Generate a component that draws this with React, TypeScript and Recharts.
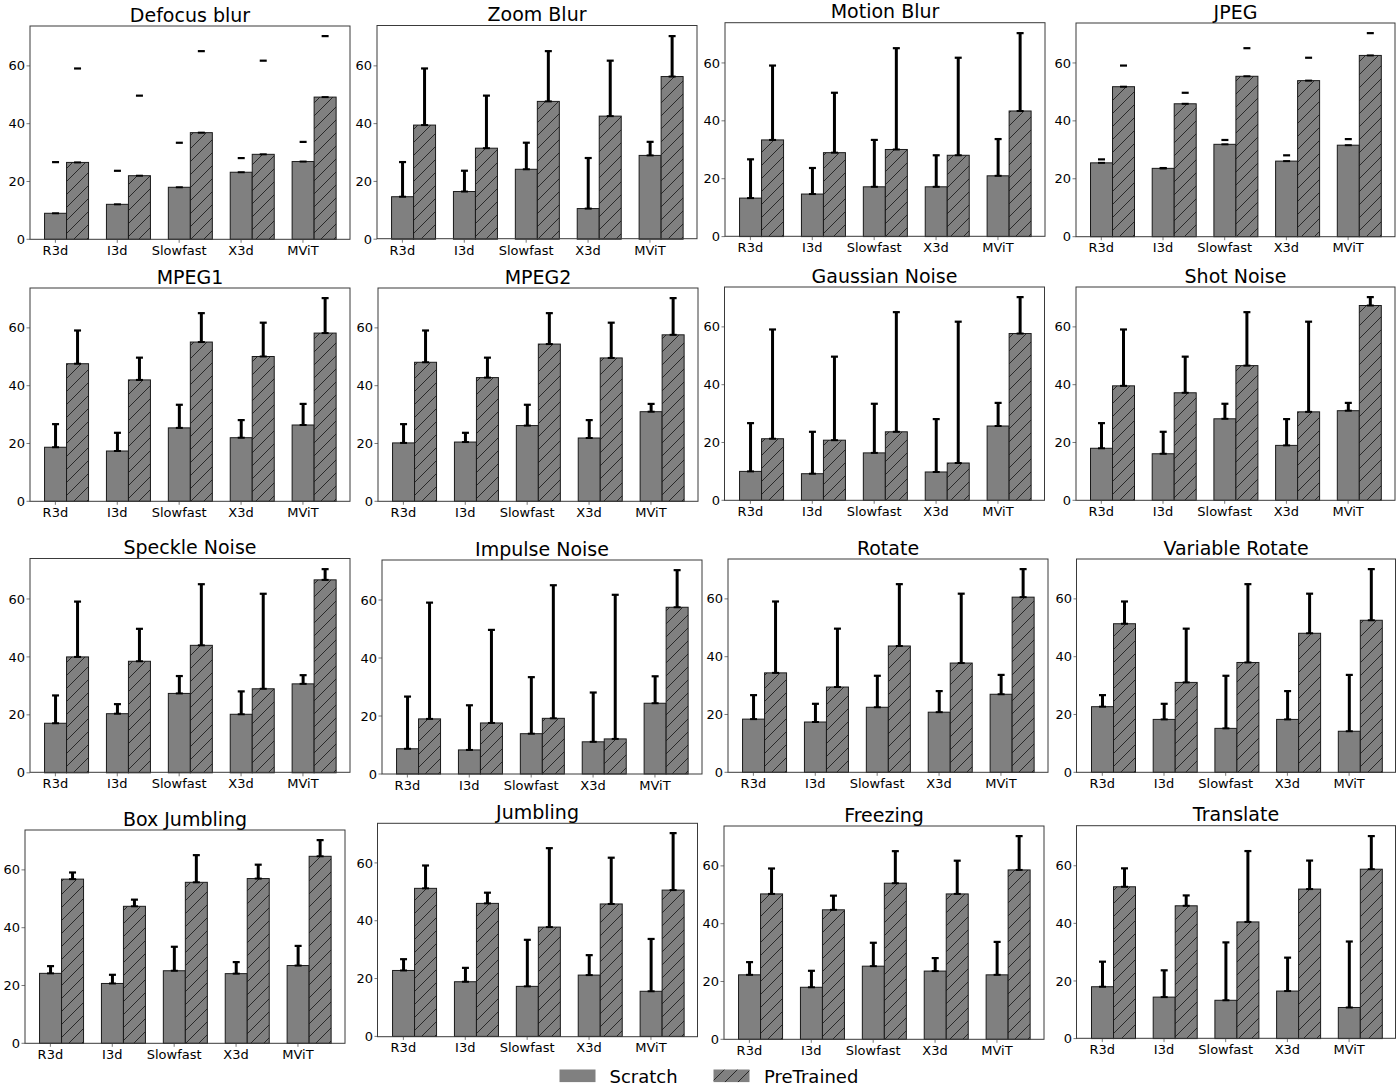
import React from 'react';
import { BarChart, Bar, XAxis, YAxis } from 'recharts';

// models on the x axis
const models = ['R3d', 'I3d', 'Slowfast', 'X3d', 'MViT'];
const yTicks = [0, 20, 40, 60];

// clean accuracy, the top of every error bar
const scratchClean = [26.7, 23.7, 33.4, 28.1, 33.7];
const preTrainedClean = [59.1, 49.7, 65.1, 61.8, 70.3];

// accuracy under each corruption
const defocusScratch = [9.0, 12.1, 18.0, 23.2, 26.9];
const defocusPre = [26.6, 22.0, 36.9, 29.4, 49.2];
const zoomScratch = [14.7, 16.5, 24.2, 10.6, 29.0];
const zoomPre = [39.5, 31.5, 47.7, 42.6, 56.3];
const motionScratch = [13.3, 14.7, 17.2, 17.2, 21.0];
const motionPre = [33.4, 29.0, 30.1, 28.1, 43.4];
const jpegScratch = [25.5, 23.6, 31.9, 26.1, 31.6];
const jpegPre = [51.8, 45.9, 55.4, 53.9, 62.6];
const mpeg1Scratch = [18.7, 17.4, 25.4, 22.0, 26.4];
const mpeg1Pre = [47.6, 42.0, 55.1, 50.1, 58.2];
const mpeg2Scratch = [20.2, 20.5, 26.2, 21.9, 31.0];
const mpeg2Pre = [48.1, 42.8, 54.4, 49.6, 57.6];
const gaussianScratch = [10.0, 9.2, 16.4, 9.8, 25.7];
const gaussianPre = [21.3, 20.8, 23.7, 12.9, 57.7];
const shotScratch = [18.0, 16.1, 28.2, 19.0, 31.0];
const shotPre = [39.6, 37.2, 46.6, 30.6, 67.4];
const speckleScratch = [17.1, 20.4, 27.4, 20.2, 30.7];
const specklePre = [40.0, 38.5, 44.0, 29.0, 66.6];
const impulseScratch = [8.7, 8.3, 13.9, 11.1, 24.4];
const impulsePre = [19.0, 17.6, 19.2, 12.1, 57.5];
const rotateScratch = [18.4, 17.4, 22.5, 20.8, 27.0];
const rotatePre = [34.4, 29.5, 43.7, 37.8, 60.6];
const varRotateScratch = [22.7, 18.3, 15.2, 18.3, 14.2];
const varRotatePre = [51.4, 31.1, 38.0, 48.1, 52.6];
const boxJumbScratch = [24.2, 20.7, 25.1, 24.1, 26.9];
const boxJumbPre = [56.8, 47.4, 55.7, 57.0, 64.7];
const jumbScratch = [22.8, 18.9, 17.3, 21.2, 15.6];
const jumbPre = [51.2, 46.0, 37.8, 45.8, 50.6];
const freezeScratch = [22.3, 18.0, 25.3, 23.6, 22.3];
const freezePre = [50.3, 44.8, 54.0, 50.3, 58.6];
const translateScratch = [18.0, 14.4, 13.3, 16.5, 10.8];
const translatePre = [52.7, 46.1, 40.5, 51.9, 58.8];

const panels = [
  { title: 'Defocus blur', scratch: defocusScratch, pre: defocusPre, capsOnly: true },
  { title: 'Zoom Blur', scratch: zoomScratch, pre: zoomPre },
  { title: 'Motion Blur', scratch: motionScratch, pre: motionPre },
  { title: 'JPEG', scratch: jpegScratch, pre: jpegPre, capsOnly: true },
  { title: 'MPEG1', scratch: mpeg1Scratch, pre: mpeg1Pre },
  { title: 'MPEG2', scratch: mpeg2Scratch, pre: mpeg2Pre },
  { title: 'Gaussian Noise', scratch: gaussianScratch, pre: gaussianPre },
  { title: 'Shot Noise', scratch: shotScratch, pre: shotPre },
  { title: 'Speckle Noise', scratch: speckleScratch, pre: specklePre },
  { title: 'Impulse Noise', scratch: impulseScratch, pre: impulsePre },
  { title: 'Rotate', scratch: rotateScratch, pre: rotatePre },
  { title: 'Variable Rotate', scratch: varRotateScratch, pre: varRotatePre },
  { title: 'Box Jumbling', scratch: boxJumbScratch, pre: boxJumbPre },
  { title: 'Jumbling', scratch: jumbScratch, pre: jumbPre },
  { title: 'Freezing', scratch: freezeScratch, pre: freezePre },
  { title: 'Translate', scratch: translateScratch, pre: translatePre },
];

// plot box of each panel on the page: left, top, width, height
const boxes = [
  [30, 26, 320, 213.3],
  [377, 25.5, 320, 213.2],
  [725, 22.7, 320, 213.6],
  [1076, 23, 319, 213.7],
  [30, 288, 320, 213.3],
  [378, 288, 320, 213.3],
  [724.5, 287, 320, 213.3],
  [1076, 287, 319, 213.3],
  [30, 558.5, 320, 213.8],
  [382, 560, 320, 214],
  [728, 559, 320, 213.3],
  [1076.5, 559, 319, 213.3],
  [25, 830, 320, 213.3],
  [377.5, 823.3, 320, 213.4],
  [724, 826, 320, 213.3],
  [1076.5, 825.7, 319, 212.6],
];

const FONT = 'DejaVu Sans';
const GRAY = '#808080';
const Y_MAX = 73.8;
const AXIS_W = 40;
const AXIS_H = 28;

function makeShape(valueKey: string, cleanKey: string, hatched: boolean, capsOnly: boolean) {
  return (props: any) => {
    const { x, y, width, height, payload } = props;
    const v = payload[valueKey];
    const base = y + height;
    const yClean = base - (payload[cleanKey] / v) * height;
    const cx = x + width / 2;
    return (
      <g>
        <rect x={x} y={y} width={width} height={height} fill={hatched ? 'url(#hatch)' : GRAY} stroke="#1a1a1a" strokeWidth={1} />
        {!capsOnly && <line x1={cx} x2={cx} y1={y} y2={yClean} stroke="#000" strokeWidth={3} />}
        <line x1={cx - 3.5} x2={cx + 3.5} y1={yClean} y2={yClean} stroke="#000" strokeWidth={2.2} />
        <line x1={cx - 3.5} x2={cx + 3.5} y1={y} y2={y} stroke="#000" strokeWidth={2} />
      </g>
    );
  };
}

function ModelTick(props: any) {
  const { x, y, payload, shift } = props;
  const tx = x - shift;
  return (
    <g>
      <line x1={tx} x2={tx} y1={y} y2={y + 3.5} stroke="#555" strokeWidth={0.8} />
      <text x={tx} y={y + 15.5} textAnchor="middle" fontSize={13} fontFamily={FONT} fill="#000">
        {payload.value}
      </text>
    </g>
  );
}

function Panel({ panel, box }: { panel: any; box: number[] }) {
  const [l, t, w, h] = box;
  const s = w / 5.17;
  const pad = 0.085 * s;
  const rows = models.map((m, i) => ({
    name: m,
    scratch: panel.scratch[i],
    pre: panel.pre[i],
    scratchClean: scratchClean[i],
    preClean: preTrainedClean[i],
  }));
  return (
    <div style={{ position: 'absolute', left: l - AXIS_W, top: t - 2 }}>
      <BarChart
        width={w + AXIS_W + 2}
        height={h + AXIS_H + 2}
        data={rows}
        margin={{ top: 2, right: 2, bottom: 0, left: 0 }}
        barGap={0}
        barCategoryGap="15%"
      >
        <XAxis
          dataKey="name"
          interval={0}
          tickLine={false}
          axisLine={false}
          tickSize={0}
          tickMargin={0}
          height={AXIS_H}
          padding={{ left: pad, right: pad }}
          tick={<ModelTick shift={0.175 * s} />}
        />
        <YAxis
          domain={[0, Y_MAX]}
          ticks={yTicks}
          tickLine={{ stroke: '#555', strokeWidth: 0.8 }}
          axisLine={false}
          tickSize={3.5}
          tickMargin={1.5}
          width={AXIS_W}
          tick={{ fontSize: 13, fontFamily: FONT, fill: '#000' }}
        />
        <Bar dataKey="scratch" isAnimationActive={false} shape={makeShape('scratch', 'scratchClean', false, !!panel.capsOnly)} />
        <Bar dataKey="pre" isAnimationActive={false} shape={makeShape('pre', 'preClean', true, !!panel.capsOnly)} />
      </BarChart>
    </div>
  );
}

export default function App() {
  return (
    <div style={{ position: 'absolute', left: 0, top: 0, width: 1400, height: 1087, background: '#fff', fontFamily: FONT }}>
      <svg width={0} height={0} style={{ position: 'absolute' }}>
        <defs>
          <pattern id="hatch" patternUnits="userSpaceOnUse" width={13} height={13}>
            <rect width={13} height={13} fill={GRAY} />
            <path d="M-1,1 L1,-1 M0,13 L13,0 M12,14 L14,12" stroke="#111" strokeWidth={0.8} />
          </pattern>
        </defs>
      </svg>
      {panels.map((p, i) => (
        <Panel key={p.title} panel={p} box={boxes[i]} />
      ))}
      <svg width={1400} height={1087} style={{ position: 'absolute', left: 0, top: 0, pointerEvents: 'none' }}>
        {panels.map((p, i) => {
          const [l, t, w, h] = boxes[i];
          return (
            <g key={p.title}>
              <rect x={l} y={t} width={w} height={h} fill="none" stroke="#3a3a3a" strokeWidth={1} />
              <text x={l + w / 2} y={t - 4.5} textAnchor="middle" fontSize={19} fontFamily={FONT} fill="#000">
                {p.title}
              </text>
            </g>
          );
        })}
        <rect x={559.5} y={1069.5} width={36} height={12.6} fill={GRAY} />
        <text x={609.5} y={1082.5} fontSize={18} fontFamily={FONT} fill="#000">Scratch</text>
        <rect x={713.5} y={1069.5} width={36} height={12.6} fill="url(#hatch)" />
        <text x={764} y={1082.5} fontSize={18} fontFamily={FONT} fill="#000">PreTrained</text>
      </svg>
    </div>
  );
}
